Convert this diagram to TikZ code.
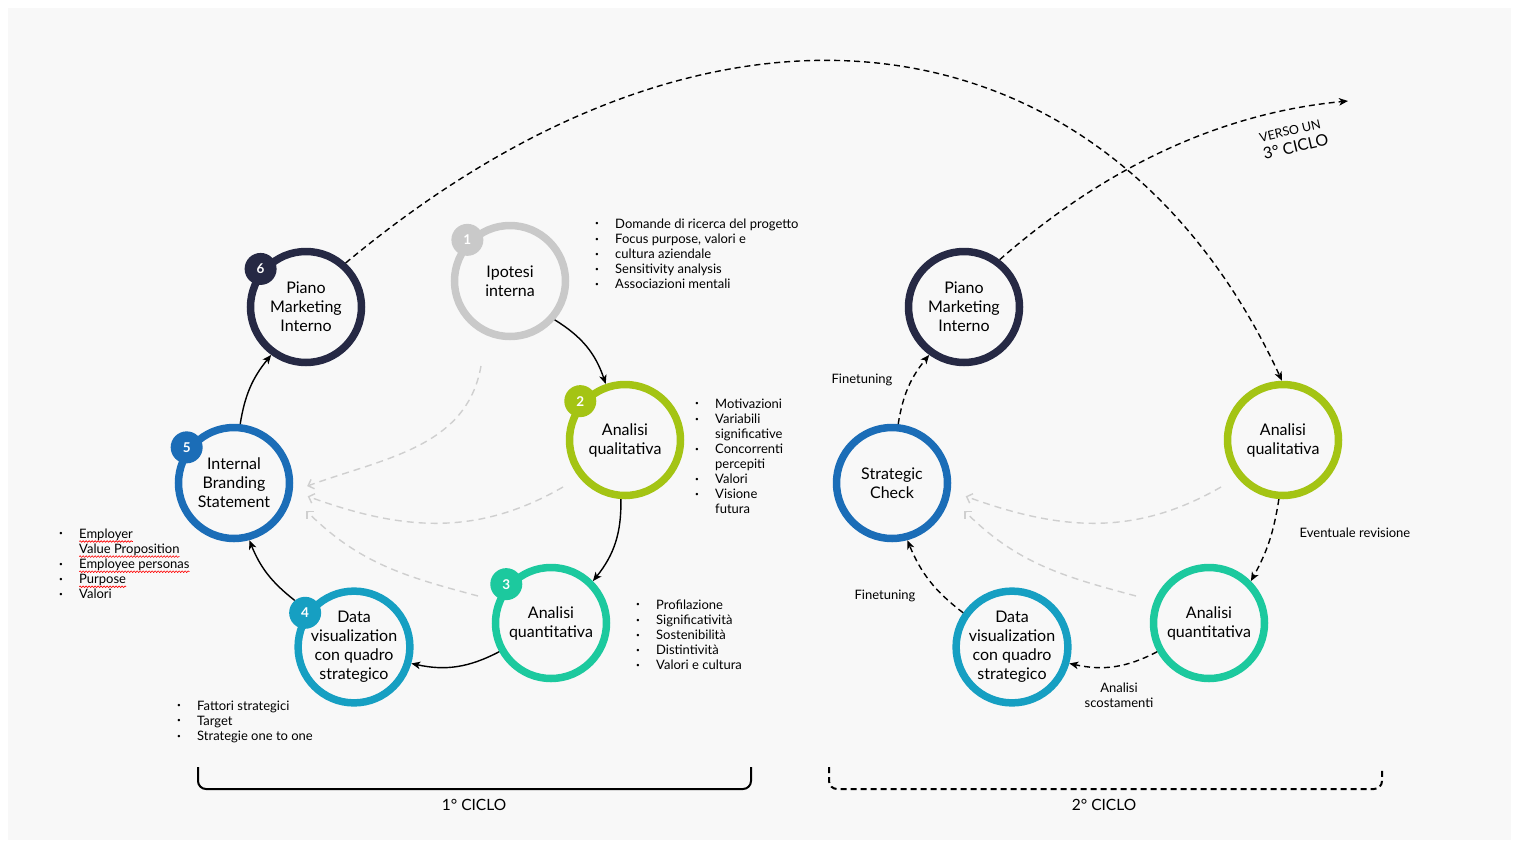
\documentclass[tikz,border=0pt]{standalone}
\usepackage{fontspec}
\setmainfont{Lato}
\usepackage{tikz}
\usetikzlibrary{arrows.meta,positioning,decorations.pathmorphing}

\definecolor{navy}{HTML}{262944}
\definecolor{ipogray}{HTML}{C9C9C9}
\definecolor{lime}{HTML}{A4C414}
\definecolor{mint}{HTML}{1CC99E}
\definecolor{ocean}{HTML}{169FC2}
\definecolor{royal}{HTML}{1B6DB7}
\definecolor{hintgray}{HTML}{CFCFCF}
\definecolor{panel}{HTML}{F8F8F8}

% bullet and indent for the lists
\newcommand*{\bul}{\makebox[20pt][l]{\raisebox{0.35ex}{\fontsize{6.5}{6.5}\selectfont\textbullet}}}
\newcommand*{\cont}{\hspace*{20pt}}
% red wavy underline (spell checker look)
\newlength{\wavelen}
\newcommand*{\spellwave}[1]{%
  \settowidth{\wavelen}{#1}%
  \rlap{\tikz[overlay, baseline=0pt] \draw[red, line width=0.6pt, decorate, decoration={snake, amplitude=0.8pt, segment length=3pt}] (0pt,-3.2pt) -- (\wavelen,-3.2pt);}%
  #1}

\begin{document}
\begin{tikzpicture}[x=1pt, y=1pt,
  ring/.style={circle, draw=#1, line width=7.5pt, minimum size=111pt, inner sep=0pt, align=center, font=\fontsize{16}{19}\selectfont},
  badge/.style={circle, fill=#1, minimum size=32pt, inner sep=0pt, text=white, font=\fontsize{13.5}{13.5}\selectfont\bfseries},
  note/.style={inner sep=0pt, anchor=north west, align=left, font=\fontsize{13}{15.1}\selectfont},
  tag/.style={align=center, font=\fontsize{13}{15}\selectfont},
  flow/.style={line width=1.4pt, -{Stealth[length=9pt,width=7.5pt,inset=2.5pt]}},
  rework/.style={flow, dash pattern=on 6pt off 4pt},
  hint/.style={draw=hintgray, line width=1.4pt, dash pattern=on 7pt off 5pt, -{Straight Barb[length=5pt,width=10pt]}}]
\useasboundingbox (0,0) rectangle (1519,-844);
\fill[white] (0,0) rectangle (1519,-844);
\fill[panel] (8,-8) rectangle (1511,-840);

% ---- 1st cycle
\node[ring=navy] (p6) at (306,-307) {Piano\\Marketing\\Interno};
\node[ring=ipogray] (p1) at (510,-281) {Ipotesi\\interna};
\node[ring=lime] (p2) at (625,-440) {Analisi\\qualitativa};
\node[ring=mint] (p3) at (551,-623) {Analisi\\quantitativa};
\node[ring=ocean] (p4) at (354,-647) {Data\\visualization\\con quadro\\strategico};
\node[ring=royal] (p5) at (234,-483) {Internal\\Branding\\Statement};

\node[badge=navy] (b6) at (p6.140) {6};
\node[badge=ipogray] (b1) at (p1.136) {1};
\node[badge=lime] (b2) at (p2.139) {2};
\node[badge=mint] (b3) at (p3.139) {3};
\node[badge=ocean] (b4) at (p4.145) {4};
\node[badge=royal] (b5) at (p5.143) {5};

\draw[flow] (p1.-41) to[bend left=20] (p2.109);
\draw[flow] (p2.-94) to[bend left=20] (p3.45);
\draw[flow] (p3.209) to[bend left=20] (p4.-16);
\draw[flow] (b4.130) to[bend left=15] (p5.-75);
\draw[flow] (p5.84) to[bend left=15] (p6.234);

\coordinate (h1) at (481,-366);
\coordinate (h2) at (563,-487);
\coordinate (h3) at (478,-596);
\draw[hint] (h1) to[out=-100, in=20] ([xshift=14pt]p5.-3);
\draw[hint] (h2) to[out=210, in=-20] ([xshift=16pt]p5.-13);
\draw[hint] (h3) to[out=165, in=-45] ([xshift=20pt]p5.-28);

\node[note] (n1) at (595,-218.5) {\bul Domande di ricerca del progetto\\\bul Focus purpose, valori e\\\bul cultura aziendale\\\bul Sensitivity analysis\\\bul Associazioni mentali};
\node[note] (n2) at (695,-398.5) {\bul Motivazioni\\\bul Variabili\\\cont significative\\\bul Concorrenti\\\cont percepiti\\\bul Valori\\\bul Visione\\\cont futura};
\node[note] (n3) at (636,-599.5) {\bul Profilazione\\\bul Significatività\\\bul Sostenibilità\\\bul Distintività\\\bul Valori e cultura};
\node[note] (n4) at (177,-700.5) {\bul Fattori strategici\\\bul Target\\\bul Strategie one to one};
\node[note] (n5) at (59,-528.5) {\bul\spellwave{Employer}\\\cont\spellwave{Value Proposition}\\\bul\spellwave{Employee personas}\\\bul\spellwave{Purpose}\\\bul Valori};

% ---- 2nd cycle
\node[ring=navy] (q6) at (964,-307) {Piano\\Marketing\\Interno};
\node[ring=royal] (q5) at (892,-483) {Strategic\\Check};
\node[ring=lime] (q2) at (1283,-440) {Analisi\\qualitativa};
\node[ring=mint] (q3) at (1209,-623) {Analisi\\quantitativa};
\node[ring=ocean] (q4) at (1012,-647) {Data\\visualization\\con quadro\\strategico};

\draw[rework] (q2.-94) to[bend left=10] (q3.45);
\draw[rework] (q3.209) to[bend left=20] (q4.-16);
\draw[rework] (q4.145) to[bend left=15] (q5.-75);
\draw[rework] (q5.84) to[bend left=15] (q6.234);

\coordinate (k2) at (1221,-487);
\coordinate (k3) at (1136,-596);
\draw[hint] (k2) to[out=210, in=-20] ([xshift=16pt]q5.-13);
\draw[hint] (k3) to[out=165, in=-45] ([xshift=20pt]q5.-28);

\node[tag] (ft1) at (862,-380) {Finetuning};
\node[tag] (ft2) at (885,-596) {Finetuning};
\node[tag] (rev) at (1355,-533) {Eventuale revisione};
\node[tag] (scost) at (1119,-695) {Analisi\\scostamenti};

% ---- links between cycles
\draw[rework] (p6.48) .. controls (730,57) and (1114,-18) .. (q2.91);
\coordinate (ciclo3) at (1348,-101);
\draw[rework] (q6.53) .. controls (1085,-185) and (1200,-115) .. (ciclo3);
\node[rotate=13, align=left, inner sep=0pt, font=\fontsize{16}{18}\selectfont] (verso) at (1294,-139) {{\fontsize{12.5}{13}\selectfont VERSO UN}\\3° CICLO};

% ---- cycle brackets
\draw[line width=2pt, rounded corners=8pt] (198,-767) |- (751,-789) -- (751,-767);
\draw[line width=2pt, rounded corners=8pt, dash pattern=on 6pt off 4pt] (829,-767) |- (1382,-789) -- (1382,-770);
\node[font=\fontsize{15.5}{15.5}\selectfont] (ciclo1) at (474,-805) {1° CICLO};
\node[font=\fontsize{15.5}{15.5}\selectfont] (ciclo2) at (1104,-805) {2° CICLO};
\end{tikzpicture}
\end{document}
